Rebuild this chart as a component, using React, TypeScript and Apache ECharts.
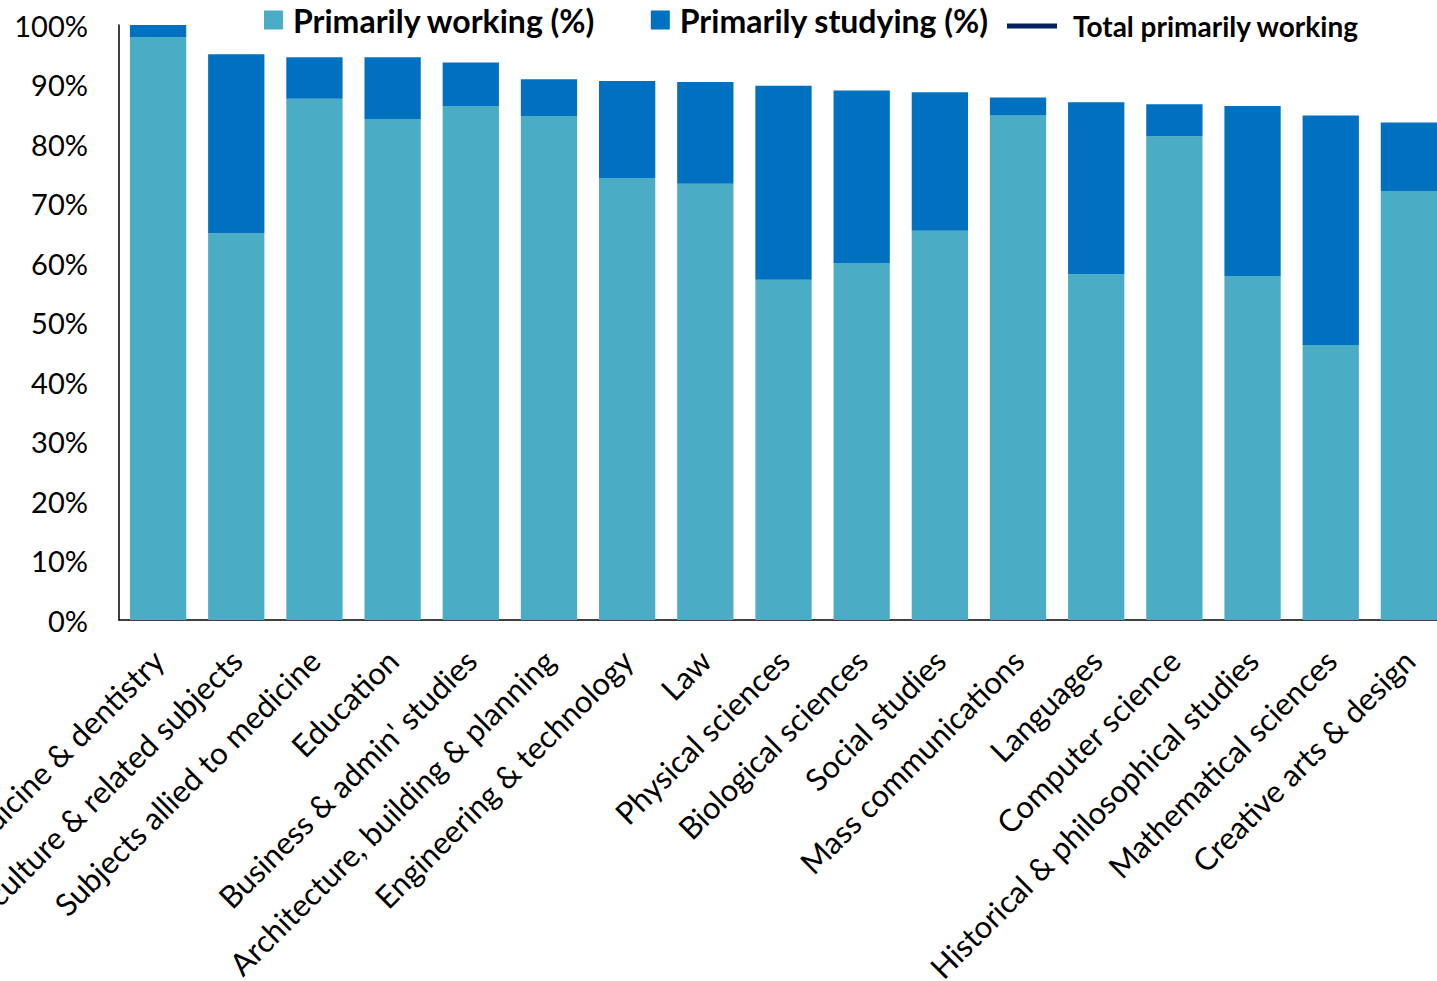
import React, { useEffect, useRef } from "react";
import * as echarts from "echarts";

const categories = [
  "Medicine & dentistry",
  "Agriculture & related subjects",
  "Subjects allied to medicine",
  "Education",
  "Business & admin' studies",
  "Architecture, building & planning",
  "Engineering & technology",
  "Law",
  "Physical sciences",
  "Biological sciences",
  "Social studies",
  "Mass communications",
  "Languages",
  "Computer science",
  "Historical & philosophical studies",
  "Mathematical sciences",
  "Creative arts & design",
];

const primarilyWorking = [98.0, 65.0, 87.6, 84.2, 86.4, 84.7, 74.3, 73.3, 57.2, 60.0, 65.4, 84.8, 58.1, 81.3, 57.8, 46.2, 72.1];
const primarilyStudying = [2.0, 30.1, 7.0, 10.4, 7.3, 6.2, 16.3, 17.1, 32.6, 29.0, 23.3, 3.0, 28.9, 5.4, 28.6, 38.6, 11.5];
const totalWorking: number[] = [];

const FONT = "Lato";

export default function App() {
  const ref = useRef<HTMLDivElement>(null);
  useEffect(() => {
    if (!ref.current) return;
    const chart = echarts.init(ref.current, undefined, { renderer: "svg" });
    chart.setOption({
      animation: false,
      backgroundColor: "#ffffff",
      textStyle: { fontFamily: FONT },
      legend: [
        {
          data: ["Primarily working (%)", "Primarily studying (%)"],
          left: 264,
          top: 4,
          padding: 0,
          icon: "rect",
          itemWidth: 19,
          itemHeight: 19,
          itemGap: 55,
          textStyle: {
            fontFamily: FONT,
            fontSize: 32,
            fontWeight: "bold",
            color: "#000",
            padding: [0, 0, 0, 5],
          },
        },
        {
          data: ["Total primarily working"],
          left: 1007,
          top: 12,
          padding: 0,
          icon: "rect",
          itemWidth: 50,
          itemHeight: 5,
          itemGap: 17,
          textStyle: {
            fontFamily: FONT,
            fontSize: 28,
            fontWeight: "bold",
            color: "#000",
            padding: [0, 0, 0, 11],
          },
        },
      ],
      grid: {
        left: 119,
        top: 25,
        width: 1329,
        bottom: 361,
        containLabel: false,
        outerBoundsMode: "none",
      },
      xAxis: {
        type: "category",
        data: categories,
        axisLine: { show: true, lineStyle: { color: "#000", width: 1.5 } },
        axisTick: { show: false },
        axisLabel: {
          interval: 0,
          rotate: 45,
          margin: 35,
          fontFamily: FONT,
          fontSize: 31,
          color: "#000",
        },
      },
      yAxis: {
        type: "value",
        min: 0,
        max: 100,
        interval: 10,
        axisLine: { show: true, lineStyle: { color: "#000", width: 1.5 } },
        axisTick: { show: false },
        splitLine: { show: false },
        axisLabel: {
          formatter: "{value}%",
          margin: 31,
          fontFamily: FONT,
          fontSize: 29,
          color: "#000",
        },
      },
      series: [
        {
          name: "Primarily working (%)",
          type: "bar",
          stack: "total",
          data: primarilyWorking,
          barCategoryGap: "28%",
          itemStyle: { color: "#4BACC6" },
        },
        {
          name: "Primarily studying (%)",
          type: "bar",
          stack: "total",
          data: primarilyStudying,
          barCategoryGap: "28%",
          itemStyle: { color: "#0070C0" },
        },
        {
          name: "Total primarily working",
          type: "line",
          data: totalWorking,
          showSymbol: false,
          itemStyle: { color: "#002060" },
          lineStyle: { color: "#002060", width: 5 },
        },
      ],
    });
    return () => chart.dispose();
  }, []);
  return (
    <div
      ref={ref}
      style={{ position: "absolute", left: 0, top: 0, width: 1437, height: 981 }}
    />
  );
}
